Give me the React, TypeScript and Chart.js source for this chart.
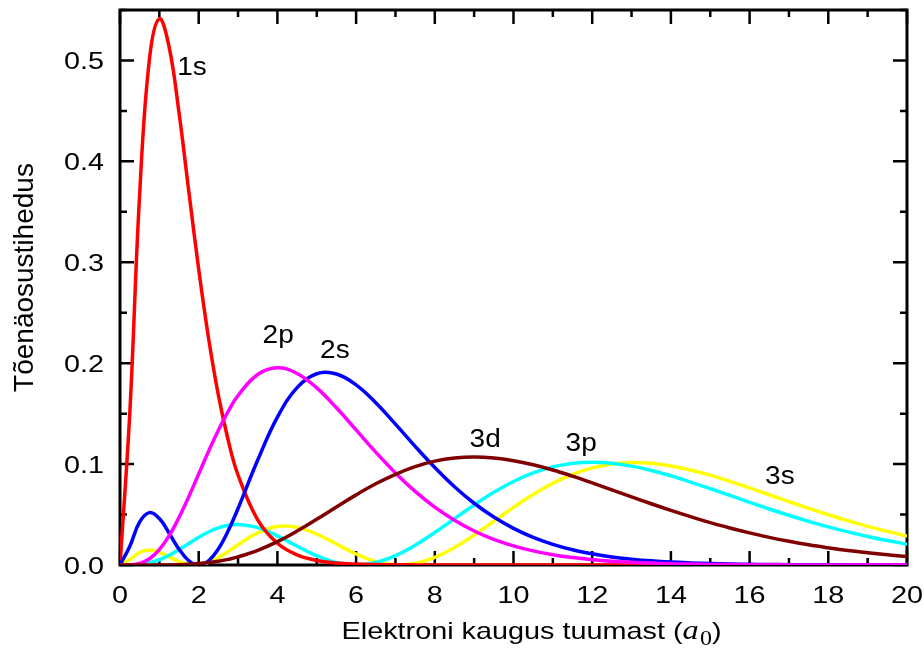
import React, { useEffect, useRef } from "react";
import { Chart, registerables } from "chart.js";

Chart.register(...registerables);

// Distance from nucleus (a0)
const xValues = [0, 0.25, 0.5, 0.75, 1, 1.25, 1.5, 1.75, 2, 2.25, 2.5, 2.75, 3, 3.5, 4, 4.5, 5, 5.5, 6, 6.5, 7, 7.5, 8, 8.5, 9, 9.5, 10, 10.5, 11, 11.5, 12, 12.5, 13, 13.5, 14, 14.5, 15, 15.5, 16, 16.5, 17, 17.5, 18, 18.5, 19, 19.5, 20];

const s1 = [0, 0.1516, 0.3679, 0.502, 0.5413, 0.513, 0.4481, 0.3699, 0.2931, 0.225, 0.1684, 0.1236, 0.0892, 0.0447, 0.0215, 0.01, 0.0045, 0.002, 0.0009, 0.0004, 0.0002, 0.0001, 0, 0, 0, 0, 0, 0, 0, 0, 0, 0, 0, 0, 0, 0, 0, 0, 0, 0, 0, 0, 0, 0, 0, 0, 0];
const s2 = [0, 0.0186, 0.0427, 0.0519, 0.046, 0.0315, 0.0157, 0.0042, 0, 0.0042, 0.016, 0.034, 0.056, 0.104, 0.1465, 0.1758, 0.1895, 0.1893, 0.1785, 0.1608, 0.1396, 0.1176, 0.0966, 0.0776, 0.0612, 0.0475, 0.0363, 0.0274, 0.0205, 0.0151, 0.0111, 0.008, 0.0058, 0.0041, 0.0029, 0.0021, 0.0015, 0.001, 0.0007, 0.0005, 0.0003, 0.0002, 0.0002, 0.0001, 0.0001, 0, 0];
const p2 = [0, 0.0001, 0.0016, 0.0062, 0.0153, 0.0291, 0.0471, 0.0679, 0.0902, 0.1126, 0.1336, 0.1523, 0.168, 0.1888, 0.1954, 0.1898, 0.1755, 0.1558, 0.1339, 0.1118, 0.0912, 0.0729, 0.0573, 0.0443, 0.0337, 0.0254, 0.0189, 0.014, 0.0102, 0.0074, 0.0053, 0.0038, 0.0027, 0.0019, 0.0013, 0.0009, 0.0006, 0.0004, 0.0003, 0.0002, 0.0001, 0.0001, 0.0001, 0, 0, 0, 0];
const s3 = [0, 0.0055, 0.0125, 0.0148, 0.0126, 0.008, 0.0034, 0.0005, 0.0002, 0.0026, 0.0073, 0.0134, 0.0201, 0.0319, 0.0382, 0.0373, 0.0306, 0.0208, 0.0109, 0.0034, 0.0001, 0.0016, 0.0076, 0.0174, 0.0297, 0.0434, 0.0571, 0.0699, 0.081, 0.0898, 0.0962, 0.1001, 0.1015, 0.1008, 0.0982, 0.0942, 0.089, 0.0829, 0.0764, 0.0696, 0.0628, 0.0562, 0.0498, 0.0439, 0.0383, 0.0333, 0.0287];
const p3 = [0, 0, 0.0006, 0.0022, 0.0052, 0.0097, 0.0153, 0.0214, 0.0274, 0.0327, 0.0367, 0.0393, 0.0401, 0.037, 0.0289, 0.0187, 0.0091, 0.0024, 0, 0.0024, 0.0092, 0.0195, 0.0322, 0.0459, 0.0595, 0.072, 0.0828, 0.0912, 0.0972, 0.1007, 0.1018, 0.1008, 0.098, 0.0937, 0.0884, 0.0822, 0.0757, 0.0689, 0.0621, 0.0555, 0.0492, 0.0432, 0.0378, 0.0328, 0.0282, 0.0242, 0.0206];
const d3 = [0, 0, 0, 0, 0, 0.0001, 0.0003, 0.0007, 0.0014, 0.0024, 0.0037, 0.0056, 0.008, 0.0145, 0.0231, 0.0336, 0.0453, 0.0575, 0.0695, 0.0805, 0.0899, 0.0975, 0.1029, 0.1061, 0.1071, 0.1061, 0.1034, 0.0993, 0.0941, 0.088, 0.0814, 0.0745, 0.0676, 0.0607, 0.0541, 0.0479, 0.042, 0.0367, 0.0318, 0.0274, 0.0235, 0.02, 0.017, 0.0143, 0.0121, 0.0101, 0.0084];

// curve labels (text, x position, baseline value)
const curveLabels = ["1s", "2p", "2s", "3d", "3p", "3s"];
const curveLabelX = [1.83, 4.02, 5.46, 9.28, 11.72, 16.77];
const curveLabelY = [0.4856, 0.22, 0.2054, 0.1172, 0.1133, 0.0803];

const xTickLabels = [0, 2, 4, 6, 8, 10, 12, 14, 16, 18, 20];
const yTickLabels = [0, 0.1, 0.2, 0.3, 0.4, 0.5];

const yTitle = "Tõenäosustihedus";
const xTitleMain = "Elektroni kaugus tuumast (";
const xTitleVar = "a";
const xTitleSub = "0";
const xTitleEnd = ")";

const SANS = "'Liberation Sans', Arial, sans-serif";
const SERIF = "'Liberation Serif', 'Times New Roman', serif";

function stretchText(ctx: CanvasRenderingContext2D, text: string, x: number, y: number, sx: number, align: CanvasTextAlign) {
  ctx.save();
  ctx.translate(x, y);
  ctx.scale(sx, 1);
  ctx.textAlign = align;
  ctx.textBaseline = "alphabetic";
  ctx.fillText(text, 0, 0);
  ctx.restore();
}

const decorPlugin = {
  id: "decor",
  beforeDatasetsDraw(chart: any) {
    const { ctx, chartArea: a, scales } = chart;
    const xs = scales.x;
    const ys = scales.y;
    ctx.save();
    ctx.strokeStyle = "#000";
    ctx.lineWidth = 3;
    ctx.strokeRect(a.left, a.top, a.right - a.left, a.bottom - a.top);
    ctx.lineWidth = 2.5;
    ctx.beginPath();
    for (let v = 0; v <= 20; v += 1) {
      const px = xs.getPixelForValue(v);
      const len = v % 2 === 0 ? 14 : 7;
      ctx.moveTo(px, a.bottom);
      ctx.lineTo(px, a.bottom - len);
      ctx.moveTo(px, a.top);
      ctx.lineTo(px, a.top + len);
    }
    for (let i = 0; i <= 11; i++) {
      const v = i * 0.05;
      const py = ys.getPixelForValue(v);
      const len = i % 2 === 0 ? 14 : 7;
      ctx.moveTo(a.left, py);
      ctx.lineTo(a.left + len, py);
      ctx.moveTo(a.right, py);
      ctx.lineTo(a.right - len, py);
    }
    ctx.stroke();
    ctx.restore();
  },
  afterDraw(chart: any) {
    const { ctx, chartArea: a, scales } = chart;
    const xs = scales.x;
    const ys = scales.y;
    ctx.save();
    ctx.fillStyle = "#000";
    // tick labels
    ctx.font = `24px ${SANS}`;
    xTickLabels.forEach((v) => {
      stretchText(ctx, String(v), xs.getPixelForValue(v), a.bottom + 38, 1.2, "center");
    });
    yTickLabels.forEach((v) => {
      stretchText(ctx, v.toFixed(1), a.left - 16, ys.getPixelForValue(v) + 8.5, 1.2, "right");
    });
    // curve labels
    ctx.font = `25px ${SANS}`;
    curveLabels.forEach((t, i) => {
      stretchText(ctx, t, xs.getPixelForValue(curveLabelX[i]), ys.getPixelForValue(curveLabelY[i]), 1.12, "center");
    });
    // y title
    ctx.save();
    ctx.translate(33, 277.5);
    ctx.rotate(-Math.PI / 2);
    ctx.font = `28px ${SANS}`;
    ctx.textAlign = "center";
    ctx.textBaseline = "alphabetic";
    ctx.fillText(yTitle, 0, 0);
    ctx.restore();
    // x title
    const sx = 1.2;
    const fMain = `24px ${SANS}`;
    const fVar = `italic 27px ${SERIF}`;
    const fSub = `20px ${SERIF}`;
    ctx.font = fMain;
    const w1 = ctx.measureText(xTitleMain).width;
    const w4 = ctx.measureText(xTitleEnd).width;
    ctx.font = fVar;
    const w2 = ctx.measureText(xTitleVar).width + 1;
    ctx.font = fSub;
    const w3 = ctx.measureText(xTitleSub).width;
    const total = (w1 + w2 + w3 + w4) * sx;
    const start = 531.5 - total / 2;
    const base = 639;
    ctx.save();
    ctx.translate(start, base);
    ctx.scale(sx, 1);
    ctx.textAlign = "left";
    ctx.textBaseline = "alphabetic";
    ctx.font = fMain;
    ctx.fillText(xTitleMain, 0, 0);
    ctx.font = fVar;
    ctx.fillText(xTitleVar, w1, 0);
    ctx.font = fSub;
    ctx.fillText(xTitleSub, w1 + w2, 6);
    ctx.font = fMain;
    ctx.fillText(xTitleEnd, w1 + w2 + w3, 0);
    ctx.restore();
    ctx.restore();
  },
};

function series(vals: number[]) {
  return xValues.map((x, i) => ({ x, y: vals[i] }));
}

export default function App() {
  const ref = useRef<HTMLCanvasElement | null>(null);
  useEffect(() => {
    if (!ref.current) return;
    const mk = (label: string, vals: number[], color: string) => ({
      label,
      data: series(vals),
      borderColor: color,
      backgroundColor: color,
      borderWidth: 3.5,
      pointRadius: 0,
      fill: false,
      tension: 0.4,
    });
    const chart = new Chart(ref.current, {
      type: "line",
      data: {
        datasets: [
          mk("3d", d3, "#800000"),
          mk("2p", p2, "#FF00FF"),
          mk("2s", s2, "#0000FF"),
          mk("1s", s1, "#FF0000"),
          mk("3p", p3, "#00FFFF"),
          mk("3s", s3, "#FFFF00"),
        ],
      },
      options: {
        animation: false,
        responsive: false,
        devicePixelRatio: 1,
        layout: { padding: { left: 120, right: 17, top: 10, bottom: 96 } },
        plugins: { legend: { display: false }, tooltip: { enabled: false } },
        events: [],
        scales: {
          x: { type: "linear", min: 0, max: 20, display: false },
          y: { type: "linear", min: 0, max: 0.55, display: false },
        },
      },
      plugins: [decorPlugin],
    });
    return () => chart.destroy();
  }, []);
  return (
    <div style={{ position: "absolute", left: 0, top: 0, width: 924, height: 661, background: "#fff" }}>
      <canvas ref={ref} width={924} height={661} />
    </div>
  );
}
